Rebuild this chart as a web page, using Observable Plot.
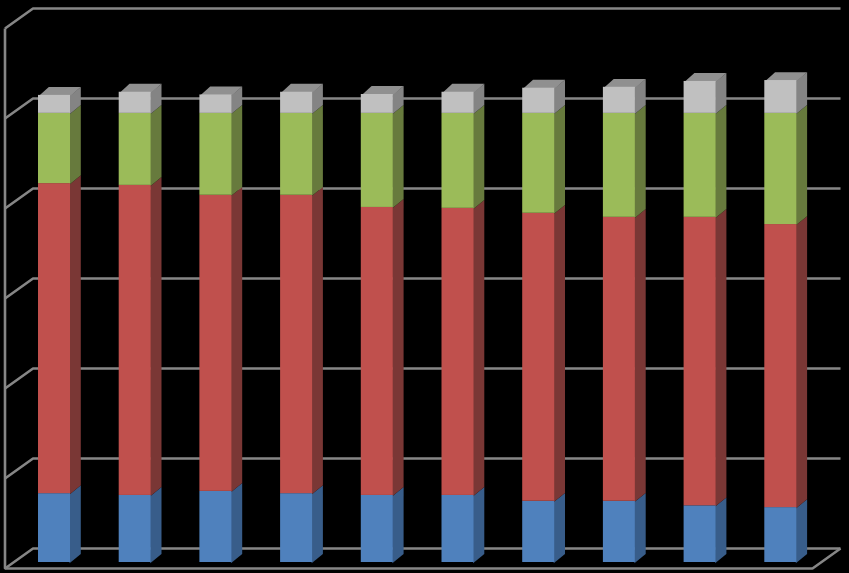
<!DOCTYPE html>
<html>
<head>
<meta charset="utf-8">
<script src="https://cdn.jsdelivr.net/npm/d3@7"></script>
<script src="https://cdn.jsdelivr.net/npm/@observablehq/plot@0.6"></script>
<style>
html,body{margin:0;padding:0;background:#000;}
svg{display:block;}
</style>
</head>
<body>
<div id="chart"></div>
<script>
const categories = [0,1,2,3,4,5,6,7,8,9];
const blue  = [15.3,14.9,15.8,15.3,14.9,14.9,13.6,13.6,12.6,12.2];
const red   = [68.9,68.9,65.8,66.3,64.0,63.8,64.0,63.1,64.1,62.9];
const green = [15.6,16.0,18.2,18.2,20.9,21.1,22.2,23.1,23.1,24.7];
const grey  = [4.0,4.7,4.1,4.7,4.2,4.7,5.6,5.8,7.1,7.3];
const tickValues = [0,20,40,60,80,100,120];

const seriesList = [
  {values: blue,  front: "#4f81bd", side: "#385d8a"},
  {values: red,   front: "#c0504d", side: "#7a3735"},
  {values: green, front: "#9bbb59", side: "#677a3d"},
  {values: grey,  front: "#c0c0c0", side: "#848484"}
];
const topColor = "#909090";
const gridColor = "#868686";

// 3D projection expressed in data units
const W = 32/80.7, DX = 10.3/80.7, DY = 8.4/4.5;
const overlap = 1/80.7;
const wallDX = 28/80.7, wallDY = 20/4.5;
const frontX = -33.5/80.7, frontV = -6/4.5;   // front-left corner of the floor
const floorW = 807.5/80.7;

const marks = [];
const line = (pts, opts) => Plot.line(pts, {x: "x", y: "y", ...opts});
const gridOpts = {stroke: gridColor, strokeWidth: 2.6, strokeLinejoin: "miter", strokeLinecap: "butt"};

// walls: gridlines run across the back wall and down the left wall
for (const t of tickValues) {
  const v = t + frontV;
  marks.push(line([
    {x: frontX, y: v},
    {x: frontX + wallDX, y: v + wallDY},
    {x: frontX + wallDX + floorW, y: v + wallDY}
  ], gridOpts));
}
// left wall front edge and floor front edge
marks.push(line([
  {x: frontX, y: tickValues[tickValues.length-1] + frontV},
  {x: frontX, y: frontV},
  {x: frontX + floorW, y: frontV},
  {x: frontX + floorW + wallDX, y: frontV + wallDY}
], gridOpts));

const face = (pts, color) => Plot.line(pts, {
  x: "x", y: "y", fill: color, stroke: "none"
});

for (const i of categories) {
  let base = 0;
  const segs = seriesList.map(s => {
    const seg = {y1: base, y2: base + s.values[i], ...s};
    base = seg.y2;
    return seg;
  });
  // top face first so the side and front cover its seams
  marks.push(face([
    {x: i, y: base - 0.2},
    {x: i + W, y: base - 0.2},
    {x: i + W + DX, y: base + DY},
    {x: i + DX, y: base + DY}
  ], topColor));
  for (const s of segs) {
    marks.push(face([
      {x: i + W - overlap, y: s.y1 - DY * overlap / DX},
      {x: i + W + DX, y: s.y1 + DY},
      {x: i + W + DX, y: s.y2 + DY},
      {x: i + W - overlap, y: s.y2 - DY * overlap / DX}
    ], s.side));
  }
  for (const s of segs) {
    marks.push(Plot.rect([s], {
      x1: () => i, x2: () => i + W, y1: "y1", y2: "y2", fill: s.front
    }));
  }
}

const chart = Plot.plot({
  width: 849, height: 573,
  margin: 0,
  style: {background: "#000"},
  x: {type: "linear", domain: [-38/80.7, (849-38)/80.7], range: [0, 849], axis: null},
  y: {type: "linear", domain: [-11/4.5, 562/4.5], range: [573, 0], axis: null},
  marks
});
document.getElementById("chart").append(chart);
</script>
</body>
</html>
